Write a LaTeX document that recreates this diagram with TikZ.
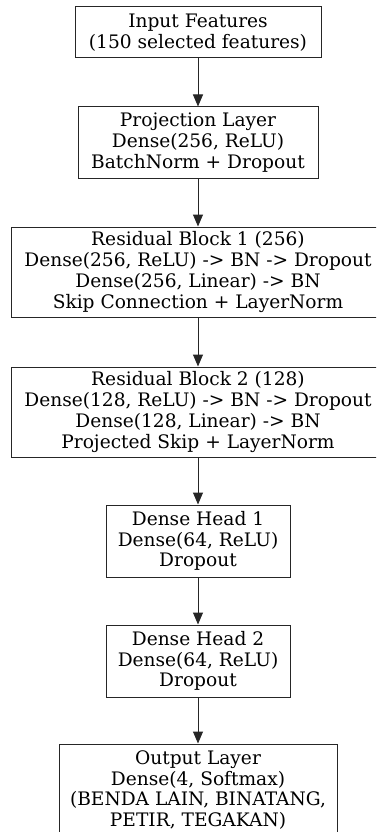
\documentclass[tikz,border=0pt]{standalone}
\usepackage{fontspec}
\setmainfont{DejaVu Serif}
\usetikzlibrary{arrows.meta}
\tikzset{
  layerbox/.style={draw=black!85, line width=1pt, align=center, inner sep=0pt,
    font=\fontsize{18.6}{20.7}\selectfont, fill=white},
  flow/.style={draw=black!85, line width=1pt, -{Triangle[length=12pt,width=10pt]}}
}
\begin{document}
\begin{tikzpicture}[x=1pt,y=-1pt]
\useasboundingbox (0,0) rectangle (376,832);
\clip (0,0) rectangle (376,832);
\fill[white] (0,0) rectangle (376,832);
\node[layerbox, minimum width=246pt, minimum height=51pt] (in) at (198,32.5)
  {Input Features\\(150 selected features)};
\node[layerbox, minimum width=240pt, minimum height=71pt] (proj) at (198,142.5)
  {Projection Layer\\Dense(256, ReLU)\\BatchNorm + Dropout};
\node[layerbox, minimum width=374pt, minimum height=90pt] (res1) at (198,272)
  {Residual Block 1 (256)\\Dense(256, ReLU) -> BN -> Dropout\\Dense(256, Linear) -> BN\\Skip Connection + LayerNorm};
\node[layerbox, minimum width=374pt, minimum height=90pt] (res2) at (198,412)
  {Residual Block 2 (128)\\Dense(128, ReLU) -> BN -> Dropout\\Dense(128, Linear) -> BN\\Projected Skip + LayerNorm};
\node[layerbox, minimum width=184pt, minimum height=72pt] (h1) at (198,541)
  {Dense Head 1\\Dense(64, ReLU)\\Dropout};
\node[layerbox, minimum width=184pt, minimum height=72pt] (h2) at (198,661)
  {Dense Head 2\\Dense(64, ReLU)\\Dropout};
\node[layerbox, minimum width=278pt, minimum height=92pt] (out) at (198,790)
  {Output Layer\\Dense(4, Softmax)\\(BENDA LAIN, BINATANG,\\PETIR, TEGAKAN)};
\draw[flow] (in) -- (proj);
\draw[flow] (proj) -- (res1);
\draw[flow] (res1) -- (res2);
\draw[flow] (res2) -- (h1);
\draw[flow] (h1) -- (h2);
\draw[flow] (h2) -- (out);
\end{tikzpicture}
\end{document}
